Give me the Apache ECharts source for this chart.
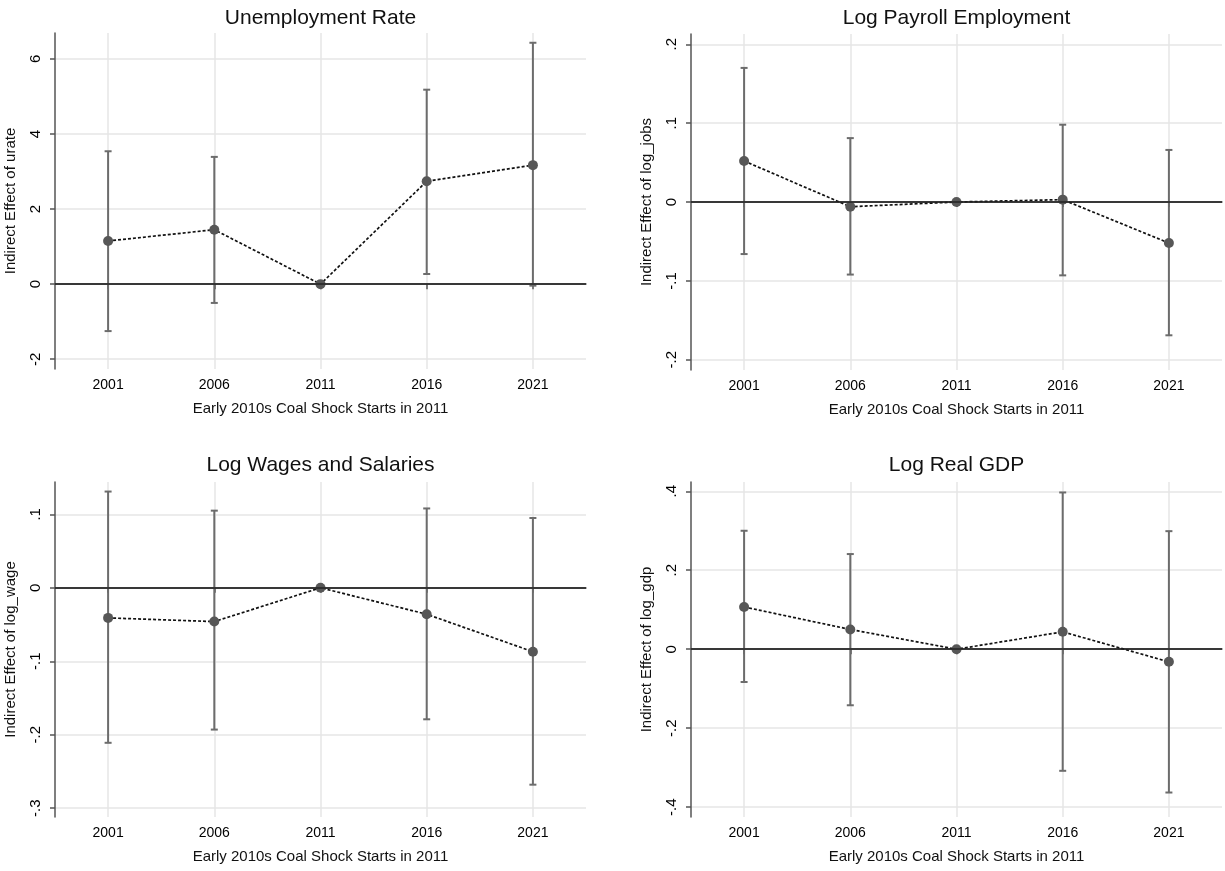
<!DOCTYPE html>
<html>
<head>
<meta charset="utf-8">
<script src="https://cdn.jsdelivr.net/npm/echarts@6/dist/echarts.min.js"></script>
<style>
  html, body { margin: 0; background: #fff; }
  #chart { width: 1225px; height: 871px; }
</style>
</head>
<body>
<div id="chart"></div>
<script>
// event-study years
const years = [2001, 2006, 2011, 2016, 2021];

// Unemployment rate
const urateEst = [1.15, 1.45, 0, 2.74, 3.17];
const urateLo = [-1.25, -0.50, 0, 0.27, -0.04];
const urateHi = [3.54, 3.39, 0, 5.18, 6.43];
const urateTicks = [-2, 0, 2, 4, 6];

// Log payroll employment
const jobsEst = [0.052, -0.006, 0, 0.003, -0.052];
const jobsLo = [-0.066, -0.092, 0, -0.093, -0.169];
const jobsHi = [0.170, 0.081, 0, 0.098, 0.066];
const jobsTicks = [-0.2, -0.1, 0, 0.1, 0.2];

// Log wages and salaries
const wageEst = [-0.041, -0.046, 0, -0.036, -0.087];
const wageLo = [-0.211, -0.193, 0, -0.179, -0.268];
const wageHi = [0.131, 0.105, 0, 0.108, 0.095];
const wageTicks = [-0.3, -0.2, -0.1, 0, 0.1];

// Log real GDP
const gdpEst = [0.107, 0.050, 0, 0.044, -0.032];
const gdpLo = [-0.083, -0.142, 0, -0.308, -0.363];
const gdpHi = [0.300, 0.241, 0, 0.397, 0.299];
const gdpTicks = [-0.4, -0.2, 0, 0.2, 0.4];

const xName = "Early 2010s Coal Shock Starts in 2011";
const font = "'Liberation Sans', Arial, sans-serif";

const panels = [
  { title: "Unemployment Rate", yName: "Indirect Effect of urate",
    est: urateEst, lo: urateLo, hi: urateHi, ticks: urateTicks, yMin: -2.26, yMax: 6.69,
    titleTop: 3, grid: { left: 55, top: 33, width: 531, height: 336 } },
  { title: "Log Payroll Employment", yName: "Indirect Effect of log_jobs",
    est: jobsEst, lo: jobsLo, hi: jobsHi, ticks: jobsTicks, yMin: -0.213, yMax: 0.213,
    titleTop: 3, grid: { left: 691, top: 34, width: 531, height: 336 } },
  { title: "Log Wages and Salaries", yName: "Indirect Effect of log_wage",
    est: wageEst, lo: wageLo, hi: wageHi, ticks: wageTicks, yMin: -0.312, yMax: 0.144,
    titleTop: 450, grid: { left: 55, top: 482, width: 531, height: 335 } },
  { title: "Log Real GDP", yName: "Indirect Effect of log_gdp",
    est: gdpEst, lo: gdpLo, hi: gdpHi, ticks: gdpTicks, yMin: -0.425, yMax: 0.4235,
    titleTop: 450, grid: { left: 691, top: 482, width: 531, height: 335 } }
];

// Stata style tick labels: .1, -.2
function fmt(v) {
  return String(Number(v.toFixed(3))).replace(/^(-?)0\./, "$1.");
}

function renderBar(params, api) {
  const x = api.value(0);
  const lo = api.coord([x, api.value(1)]);
  const hi = api.coord([x, api.value(2)]);
  const style = { stroke: "#6c6c6c", lineWidth: 2 };
  return {
    type: "group",
    children: [
      { type: "line", shape: { x1: lo[0], y1: lo[1], x2: hi[0], y2: hi[1] }, style },
      { type: "line", shape: { x1: lo[0] - 3.5, y1: lo[1], x2: lo[0] + 3.5, y2: lo[1] }, style },
      { type: "line", shape: { x1: hi[0] - 3.5, y1: hi[1], x2: hi[0] + 3.5, y2: hi[1] }, style }
    ]
  };
}

const option = {
  animation: false,
  backgroundColor: "#fff",
  textStyle: { fontFamily: font },
  title: [],
  grid: [],
  xAxis: [],
  yAxis: [],
  series: []
};

panels.forEach((p, i) => {
  const g = p.grid;
  option.title.push({
    text: p.title,
    left: g.left + g.width / 2 - 5,
    top: p.titleTop,
    textAlign: "center",
    textStyle: { fontFamily: font, fontSize: 21, fontWeight: "normal", color: "#111" }
  });
  option.grid.push(Object.assign({ containLabel: false }, g));
  option.xAxis.push({
    type: "value",
    gridIndex: i,
    min: 1998.5,
    max: 2023.5,
    name: xName,
    nameLocation: "middle",
    nameGap: 32,
    nameTextStyle: { fontFamily: font, fontSize: 15, color: "#111" },
    axisLine: { show: true, lineStyle: { color: "#555", width: 1.5 } },
    axisTick: { show: true, length: 5, customValues: years, lineStyle: { color: "#555", width: 1.5 } },
    axisLabel: { customValues: years, margin: 9, fontSize: 14, color: "#000", fontFamily: font,
      formatter: v => String(v) },
    splitLine: { show: true, lineStyle: { color: "#e6e6e6", width: 1.5 } }
  });
  option.yAxis.push({
    type: "value",
    gridIndex: i,
    min: p.yMin,
    max: p.yMax,
    name: p.yName,
    nameLocation: "middle",
    nameRotate: 90,
    nameGap: 37,
    nameTextStyle: { fontFamily: font, fontSize: 15, color: "#111" },
    axisLine: { show: true, lineStyle: { color: "#555", width: 1.5 } },
    axisTick: { show: true, length: 5, customValues: p.ticks, lineStyle: { color: "#555", width: 1.5 } },
    axisLabel: { customValues: p.ticks, rotate: 90, margin: 12, fontSize: 15, color: "#000",
      fontFamily: font, formatter: fmt },
    splitLine: { show: true, lineStyle: { color: "#e6e6e6", width: 1.5 } }
  });
  const bars = years.map((y, k) => [y, p.lo[k], p.hi[k]]).filter(d => d[1] !== d[2]);
  option.series.push({
    type: "custom",
    xAxisIndex: i,
    yAxisIndex: i,
    renderItem: renderBar,
    encode: { x: 0, y: [1, 2] },
    data: bars,
    z: 2
  });
  option.series.push({
    type: "line",
    xAxisIndex: i,
    yAxisIndex: i,
    data: years.map((y, k) => [y, p.est[k]]),
    symbol: "circle",
    symbolSize: 10,
    itemStyle: { color: "#575757" },
    lineStyle: { color: "#111", width: 1.7, type: [3, 2] },
    z: 4,
    markLine: {
      silent: true,
      symbol: "none",
      label: { show: false },
      lineStyle: { color: "#222", width: 1.6, type: "solid" },
      data: [{ yAxis: 0 }]
    }
  });
});

const chart = echarts.init(document.getElementById("chart"));
chart.setOption(option);
window.addEventListener("resize", () => chart.resize());
</script>
</body>
</html>
